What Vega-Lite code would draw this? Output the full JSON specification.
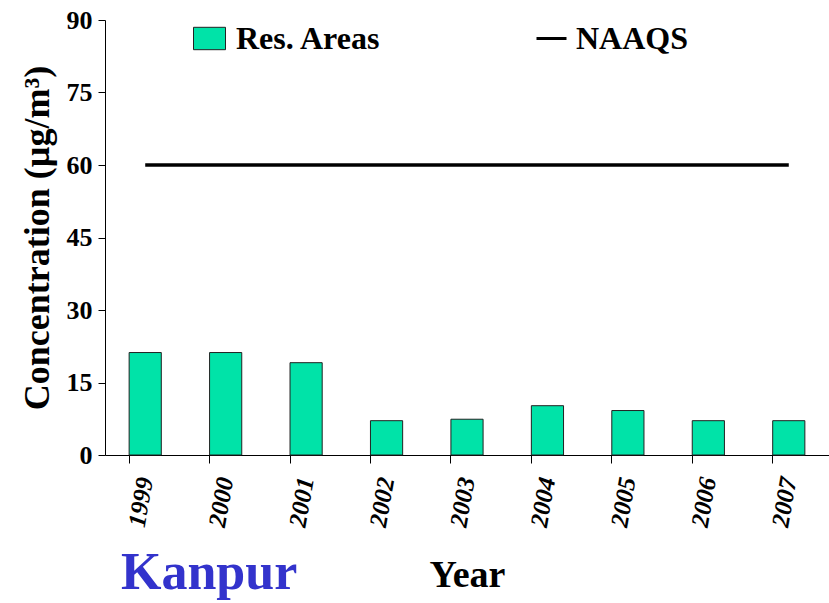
{
  "$schema": "https://vega.github.io/schema/vega-lite/v6.json",
  "autosize": {"type": "none"},
  "padding": {"left": 105, "top": 20, "right": 0, "bottom": 148},
  "width": 724,
  "height": 435,
  "background": "white",
  "title": {
    "text": "Kanpur",
    "orient": "bottom",
    "anchor": "start",
    "font": "Liberation Serif",
    "fontSize": 52,
    "fontWeight": "bold",
    "color": "#3333CC",
    "dx": 102,
    "offset": -46
  },
  "data": {
    "values": [
      {"year": "1999", "conc": 21.2, "naaqs": 60},
      {"year": "2000", "conc": 21.2, "naaqs": 60},
      {"year": "2001", "conc": 19.1, "naaqs": 60},
      {"year": "2002", "conc": 7.1, "naaqs": 60},
      {"year": "2003", "conc": 7.4, "naaqs": 60},
      {"year": "2004", "conc": 10.2, "naaqs": 60},
      {"year": "2005", "conc": 9.2, "naaqs": 60},
      {"year": "2006", "conc": 7.1, "naaqs": 60},
      {"year": "2007", "conc": 7.1, "naaqs": 60}
    ]
  },
  "encoding": {
    "x": {
      "field": "year",
      "type": "ordinal",
      "scale": {"paddingInner": 0.6, "paddingOuter": 0.3},
      "axis": {
        "title": "Year",
        "titleFont": "Liberation Serif",
        "titleFontSize": 38,
        "titleFontWeight": "bold",
        "titleColor": "black",
        "titlePadding": 28,
        "labelFont": "Liberation Serif",
        "labelFontSize": 25,
        "labelFontWeight": "bold",
        "labelFontStyle": "italic",
        "labelColor": "black",
        "labelAngle": -80,
        "labelAlign": "right",
        "labelBaseline": "middle",
        "labelPadding": 14,
        "bandPosition": 0,
        "domainColor": "black",
        "tickColor": "black",
        "tickSize": 8,
        "grid": false
      }
    }
  },
  "layer": [
    {
      "mark": {"type": "bar", "stroke": "#222222", "strokeWidth": 1},
      "encoding": {
        "y": {
          "field": "conc",
          "type": "quantitative",
          "scale": {"domain": [0, 90]},
          "axis": {
            "title": "Concentration (µg/m³)",
            "values": [0, 15, 30, 45, 60, 75, 90],
            "titleFont": "Liberation Serif",
            "titleFontSize": 36,
            "titleFontWeight": "bold",
            "titleColor": "black",
            "titlePadding": 10,
            "labelFont": "Liberation Serif",
            "labelFontSize": 26,
            "labelFontWeight": "bold",
            "labelColor": "black",
            "labelPadding": 6,
            "domainColor": "black",
            "tickColor": "black",
            "tickSize": 7,
            "grid": false
          }
        },
        "fill": {
          "datum": "Res. Areas",
          "type": "nominal",
          "scale": {"range": ["#00E3A8"]},
          "legend": {
            "title": null,
            "orient": "none",
            "legendX": 88,
            "legendY": 2,
            "symbolType": "M-1,-0.7H1V0.7H-1Z",
            "symbolSize": 1024,
            "symbolStrokeColor": "#222222",
            "symbolStrokeWidth": 1,
            "labelFont": "Liberation Serif",
            "labelFontSize": 32,
            "labelFontWeight": "bold",
            "labelColor": "black",
            "labelOffset": 10
          }
        }
      }
    },
    {
      "mark": {"type": "line", "strokeWidth": 3.5},
      "encoding": {
        "y": {"field": "naaqs", "type": "quantitative"},
        "stroke": {
          "datum": "NAAQS",
          "type": "nominal",
          "scale": {"range": ["black"]},
          "legend": {
            "title": null,
            "orient": "none",
            "legendX": 430,
            "legendY": 2,
            "symbolType": "stroke",
            "symbolSize": 900,
            "symbolStrokeWidth": 3,
            "labelFont": "Liberation Serif",
            "labelFontSize": 32,
            "labelFontWeight": "bold",
            "labelColor": "black",
            "labelOffset": 8
          }
        }
      }
    }
  ],
  "config": {"view": {"stroke": null}}
}
